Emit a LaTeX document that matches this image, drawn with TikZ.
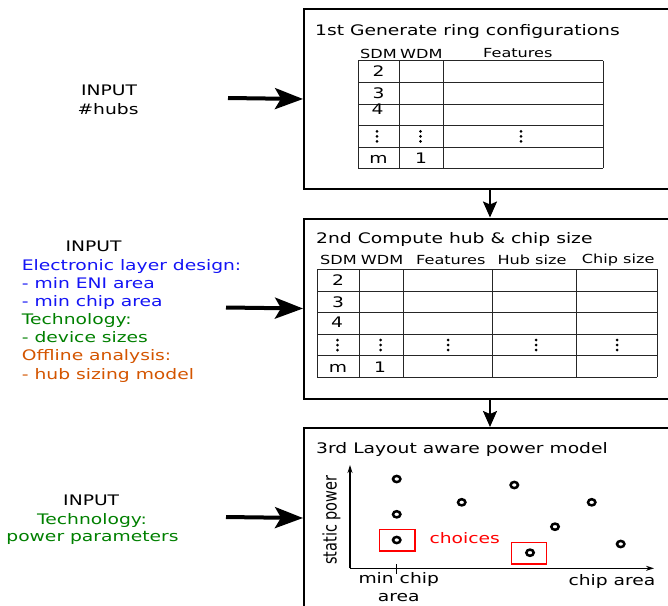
\documentclass[tikz,border=0pt]{standalone}
\usepackage{fontspec}
\setmainfont[FakeStretch=1.29]{DejaVu Sans}
\newfontfamily\plainfont{DejaVu Sans}
\usetikzlibrary{arrows.meta}
\definecolor{inblue}{RGB}{20,20,245}
\definecolor{ingreen}{RGB}{0,128,0}
\definecolor{inorange}{RGB}{212,85,0}
\definecolor{chred}{RGB}{255,0,0}
\tikzset{
  stagebox/.style={draw=black,line width=2pt,minimum width=372pt,minimum height=180pt,anchor=north west,inner sep=0pt},
  txt/.style={inner sep=0pt,font=\fontsize{14.5}{18}\selectfont},
  celltxt/.style={inner sep=0pt,font=\fontsize{14.5}{18}\selectfont},
  tabtxt/.style={inner sep=0pt,font=\fontsize{12.5}{15}\selectfont},
  bigarrow/.style={line width=4pt,-{Stealth[length=28pt,width=21pt,inset=6pt]}},
  smallarrow/.style={line width=2pt,-{Stealth[length=16pt,width=14pt,inset=3pt]}},
  tabline/.style={draw=black!85,line width=1pt},
  ptmark/.style={draw=black,line width=2.5pt},
  choicebox/.style={draw=chred,line width=1.1pt},
  axisline/.style={line width=1.1pt,-{Stealth[length=8pt,width=5pt]}},
}
\newcommand{\vdotsat}[2]{\fill (#1,#2-5) circle (1.5pt); \fill (#1,#2) circle (1.5pt); \fill (#1,#2+5) circle (1.5pt);}
\begin{document}
\begin{tikzpicture}[x=1pt,y=-1pt]
\useasboundingbox (0,0) rectangle (668,605);
\clip (0,0) rectangle (668,605);
\fill[white] (0,0) rectangle (668,605);

% stage boxes
\node[stagebox] (box1) at (303,8) {};
\node[stagebox] (box2) at (303,217.5) {};
\node[stagebox] (box3) at (303,427) {};

\draw[smallarrow] (box1.south -| 490,0) -- (box2.north -| 490,0);
\draw[smallarrow] (box2.south -| 490,0) -- (box3.north -| 490,0);

% ---------- stage 1 ----------
\node[txt,anchor=base west] (t1) at (315,35) {1st Generate ring configurations};
\node[tabtxt,anchor=base west] (h1a) at (360,58) {SDM};
\node[tabtxt,anchor=base west] (h1b) at (400,58) {WDM};
\node[tabtxt,anchor=base west] (h1c) at (483,57) {Features};
\foreach \yy in {60.7,82.3,104,125.7,147,168.3} \draw[tabline] (358.3,\yy) -- (603.3,\yy);
\foreach \xx in {358.3,399.3,443.7,603.3} \draw[tabline] (\xx,60.7) -- (\xx,168.3);
\node[celltxt,anchor=base] (c1a) at (378.5,76.7) {2};
\node[celltxt,anchor=base] (c1b) at (378.5,98.5) {3};
\node[celltxt,anchor=base] (c1c) at (377.5,114.3) {4};
\node[celltxt,anchor=base] (c1d) at (378.5,163.3) {m};
\node[celltxt,anchor=base] (c1e) at (421,163.3) {1};
\vdotsat{377}{136.3}
\vdotsat{420.5}{136.3}
\vdotsat{521}{136.3}

% ---------- stage 2 ----------
\node[txt,anchor=base west] (t2) at (316,243.3) {2nd Compute hub \& chip size};
\node[tabtxt,anchor=base west] (h2a) at (320,264.5) {SDM};
\node[tabtxt,anchor=base west] (h2b) at (360.7,264.5) {WDM};
\node[tabtxt,anchor=base west] (h2c) at (416,264.5) {Features};
\node[tabtxt,anchor=base west] (h2d) at (497.3,264.5) {Hub size};
\node[tabtxt,anchor=base west] (h2e) at (581.7,263) {Chip size};
\foreach \yy in {269.3,291,312.3,334.3,355.7,377.3} \draw[tabline] (317.3,\yy) -- (657.3,\yy);
\foreach \xx in {317.3,359.3,403.3,492.7,576.7,657.3} \draw[tabline] (\xx,269.3) -- (\xx,377.3);
\node[celltxt,anchor=base] (c2a) at (338,285.5) {2};
\node[celltxt,anchor=base] (c2b) at (338,307) {3};
\node[celltxt,anchor=base] (c2c) at (337,327.5) {4};
\node[celltxt,anchor=base] (c2d) at (338,372) {m};
\node[celltxt,anchor=base] (c2e) at (380,372.5) {1};
\vdotsat{337.5}{345}
\vdotsat{380.5}{345}
\vdotsat{448}{345}
\vdotsat{536}{345}
\vdotsat{617}{345}

% ---------- stage 3 ----------
\node[txt,anchor=base west] (t3) at (316,453.3) {3rd Layout aware power model};
\coordinate (orig) at (350,568.3);
\coordinate (ytop) at (350,465);
\coordinate (xend) at (654,568.3);
\draw[axisline] (orig) -- (ytop);
\draw[axisline] (orig) -- (xend);
\draw[line width=1.1pt] (396.7,564) -- (396.7,573.5);
\node[inner sep=0pt,rotate=90,font=\plainfont\fontsize{14.5}{18}\selectfont] (ylab) at (331.5,520) {\scalebox{1}[1.29]{static power}};
\node[txt,anchor=base west] (xl1) at (358.3,583.3) {min chip};
\node[txt,anchor=base west] (xl2) at (377.7,601.7) {area};
\node[txt,anchor=base west] (xl3) at (568.3,585.7) {chip area};
\foreach \px/\py in {396.7/479, 396.7/514.3, 396.7/540, 461.7/502.3, 514.3/485, 555/526.7, 591.7/502.3, 620.7/544, 530/552.7}
  \draw[ptmark] (\px,\py) ellipse (3.7pt and 3.1pt);
\draw[choicebox] (379.3,529.3) rectangle (415,551);
\draw[choicebox] (511.7,542.3) rectangle (546.7,564);
\node[txt,anchor=base west,text=chred] (ch) at (429.3,543.3) {choices};

% ---------- inputs ----------
\node[txt,anchor=base] (in1a) at (109,95) {INPUT};
\node[txt,anchor=base] (in1b) at (108,114.3) {\#hubs};
\coordinate (a1) at (228,98);
\draw[bigarrow] (a1) -- (box1.west);

\node[txt,anchor=base] (in2) at (93.5,251) {INPUT};
\node[txt,anchor=base west,text=inblue] (in2a) at (21.7,270) {Electronic layer design:};
\node[txt,anchor=base west,text=inblue] (in2b) at (21.7,288.3) {- min ENI area};
\node[txt,anchor=base west,text=inblue] (in2c) at (21.7,306.3) {- min chip area};
\node[txt,anchor=base west,text=ingreen] (in2d) at (21.7,324.3) {Technology:};
\node[txt,anchor=base west,text=ingreen] (in2e) at (21.7,342.6) {- device sizes};
\node[txt,anchor=base west,text=inorange] (in2f) at (21.7,360.8) {Offline analysis:};
\node[txt,anchor=base west,text=inorange] (in2g) at (21.7,379.2) {- hub sizing model};
\coordinate (a2) at (226,307.5);
\draw[bigarrow] (a2) -- (box2.west);

\node[txt,anchor=base] (in3) at (91.2,505.7) {INPUT};
\node[txt,anchor=base,text=ingreen] (in3a) at (92,524.3) {Technology:};
\node[txt,anchor=base,text=ingreen] (in3b) at (92.5,541) {power parameters};
\coordinate (a3) at (226,517);
\draw[bigarrow] (a3) -- (box3.west);
\end{tikzpicture}
\end{document}
